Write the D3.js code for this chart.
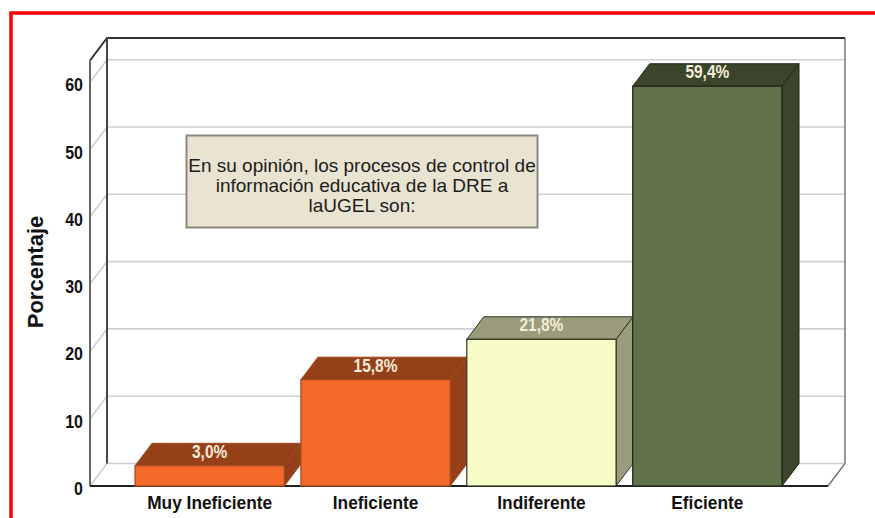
<!DOCTYPE html>
<html>
<head>
<meta charset="utf-8">
<script src="https://cdnjs.cloudflare.com/ajax/libs/d3/7.8.5/d3.min.js"></script>
<style>
  html, body { margin: 0; padding: 0; background: #fff; overflow: hidden; }
  svg { display: block; }
  .narrow { font-family: "Liberation Sans", Arial, sans-serif; font-weight: bold; }
</style>
</head>
<body>
<div id="chart"></div>
<script>
var categories = ["Muy Ineficiente", "Ineficiente", "Indiferente", "Eficiente"];
var values = [3.0, 15.8, 21.8, 59.4];
var valueLabels = ["3,0%", "15,8%", "21,8%", "59,4%"];
var tickValues = [0, 10, 20, 30, 40, 50, 60];
var noteLines = ["En su opinión, los procesos de control de", "información educativa de la DRE a", "laUGEL son:"];

var frontColors = ["#f4682a", "#f4682a", "#f8fcc6", "#5f7249"];
var topColors = ["#96401a", "#96401a", "#9a9c7c", "#3a452b"];
var edgeColors = ["#a04a1e", "#a04a1e", "#2c3320", "#1f2616"];

var width = 875, height = 518;
var depthX = 17, depthY = 22.5;
var left = 90, right = 828, floorY = 486, plotTop = 60.5;

// the original labels use a condensed face, squeeze the text to get it
function squeeze(selection, factor) {
  selection.each(function() {
    d3.select(this)
      .attr("lengthAdjust", "spacingAndGlyphs")
      .attr("textLength", this.getComputedTextLength() * factor);
  });
}

var svg = d3.select("#chart").append("svg")
    .attr("width", width)
    .attr("height", height);

var x = d3.scaleBand()
    .domain(categories)
    .range([135, 782])
    .paddingInner(0.1);

var y = d3.scaleLinear()
    .domain([0, 60])
    .range([floorY, floorY - 403.8]);

// red frame round the picture
svg.append("path")
    .attr("d", "M11,518V13H875")
    .attr("fill", "none")
    .attr("stroke", "#fa0000")
    .attr("stroke-width", 3.5);

// walls and floor of the 3d box
var box = svg.append("g");

box.selectAll(".grid")
    .data(tickValues)
  .enter().append("path")
    .attr("class", "grid")
    .attr("fill", "none")
    .attr("stroke", "#cfcfcf")
    .attr("stroke-width", 1.6)
    .attr("d", function(d) {
      return "M" + left + "," + y(d) + "L" + (left + depthX) + "," + (y(d) - depthY) + "H" + (right + depthX);
    });

// right wall and floor edges
box.append("path")
    .attr("fill", "none")
    .attr("stroke", "#777")
    .attr("stroke-width", 1.5)
    .attr("d", "M" + (right + depthX) + "," + (plotTop - depthY) + "V" + (floorY - depthY) + "L" + right + "," + floorY);

box.append("path")
    .attr("fill", "none")
    .attr("stroke", "#666")
    .attr("stroke-width", 2)
    .attr("d", "M" + left + "," + floorY + "V" + plotTop);

box.append("path")
    .attr("fill", "none")
    .attr("stroke", "#333")
    .attr("stroke-width", 2)
    .attr("d", "M" + left + "," + plotTop + "L" + (left + depthX) + "," + (plotTop - depthY) + "H" + (right + depthX));

box.append("path")
    .attr("fill", "none")
    .attr("stroke", "#444")
    .attr("stroke-width", 2)
    .attr("d", "M" + (left + depthX) + "," + (plotTop - depthY) + "V" + (floorY - depthY));

box.append("line")
    .attr("x1", left).attr("x2", right)
    .attr("y1", floorY).attr("y2", floorY)
    .attr("stroke", "#222")
    .attr("stroke-width", 2);

// note box
var noteX = d3.scalePoint().domain(noteLines).range([165, 205]);
svg.append("rect")
    .attr("x", 186.5).attr("y", 135.5)
    .attr("width", 351).attr("height", 92)
    .attr("fill", "#e9e3d2")
    .attr("stroke", "#8a8a80")
    .attr("stroke-width", 2);

svg.selectAll(".note")
    .data(noteLines)
  .enter().append("text")
    .attr("class", "note")
    .attr("x", 362)
    .attr("y", function(d) { return noteX(d) + 7; })
    .attr("text-anchor", "middle")
    .style("font-family", '"Liberation Sans", Arial, sans-serif')
    .style("font-size", "19px")
    .attr("fill", "#1c1c1c")
    .text(function(d) { return d; });

// bars
var bars = svg.selectAll(".bar")
    .data(categories)
  .enter().append("g")
    .attr("class", "bar");

bars.append("path")
    .attr("fill", function(d, i) { return topColors[i]; })
    .attr("stroke", function(d, i) { return edgeColors[i]; })
    .attr("d", function(d, i) {
      var x0 = x(d), x1 = x0 + x.bandwidth(), t = y(values[i]);
      return "M" + x0 + "," + t + "L" + (x0 + depthX) + "," + (t - depthY) +
        "H" + (x1 + depthX) + "L" + x1 + "," + t + "Z";
    });

bars.append("path")
    .attr("fill", function(d, i) { return topColors[i]; })
    .attr("stroke", function(d, i) { return edgeColors[i]; })
    .attr("d", function(d, i) {
      var x1 = x(d) + x.bandwidth(), t = y(values[i]);
      return "M" + x1 + "," + t + "L" + (x1 + depthX) + "," + (t - depthY) +
        "V" + (floorY - depthY) + "L" + x1 + "," + floorY + "Z";
    });

bars.append("rect")
    .attr("x", function(d) { return x(d); })
    .attr("width", x.bandwidth())
    .attr("y", function(d, i) { return y(values[i]); })
    .attr("height", function(d, i) { return floorY - y(values[i]); })
    .attr("fill", function(d, i) { return frontColors[i]; })
    .attr("stroke", function(d, i) { return edgeColors[i]; })
    .attr("stroke-width", 1.2);

bars.append("text")
    .attr("class", "narrow")
    .attr("x", function(d) { return x(d) + x.bandwidth() / 2; })
    .attr("y", function(d, i) { return y(values[i]) - 8; })
    .attr("text-anchor", "middle")
    .attr("fill", "#f3ecd8")
    .style("font-size", "18px")
    .text(function(d, i) { return valueLabels[i]; })
    .call(squeeze, 0.86);

// axes
var yAxis = svg.append("g")
    .attr("transform", "translate(" + (left - 1) + ",2.5)")
    .call(d3.axisLeft(y).tickValues(tickValues).tickFormat(d3.format("d")).tickSize(0).tickPadding(6));
yAxis.select(".domain").remove();
yAxis.selectAll("text")
    .attr("class", "narrow")
    .attr("fill", "#111")
    .style("font-size", "19px")
    .call(squeeze, 0.84);

var xAxis = svg.append("g")
    .attr("transform", "translate(0," + (floorY + 9) + ")")
    .call(d3.axisBottom(x).tickSize(0).tickPadding(0));
xAxis.select(".domain").remove();
xAxis.selectAll("text")
    .attr("class", "narrow")
    .attr("fill", "#111")
    .style("font-size", "19px")
    .call(squeeze, 0.91);

svg.append("text")
    .attr("class", "narrow")
    .attr("transform", "translate(43,272) rotate(-90)")
    .attr("text-anchor", "middle")
    .attr("fill", "#111")
    .style("font-size", "22px")
    .text("Porcentaje");
</script>
</body>
</html>
